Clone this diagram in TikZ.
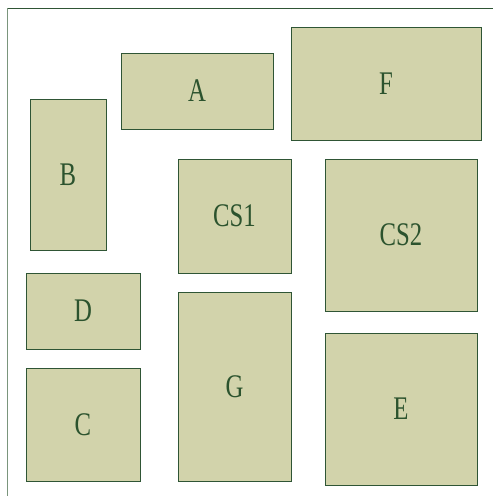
\documentclass[tikz,border=0pt]{standalone}
\usepackage{fontspec}
\setmainfont{Liberation Serif}
\usepackage{xcolor}
\usepackage{tikz}
\usetikzlibrary{positioning}
\definecolor{blkfill}{HTML}{D2D3AB}
\definecolor{blkline}{HTML}{2F5535}
\definecolor{blktext}{HTML}{2C532E}
\definecolor{frmside}{HTML}{7A957C}
\newcommand{\blklbl}[1]{\scalebox{0.75}[1]{#1}}

\begin{document}
\begin{tikzpicture}[
  x=1pt, y=-1pt,
  blk/.style ={rectangle, draw=blkline, fill=blkfill, line width=0.9pt, inner sep=0pt,
               font=\fontsize{33}{33}\selectfont\color{blktext}},
]
\useasboundingbox (0,0) rectangle (493,496);
% outer frame (only left and top edges visible)
\draw[frmside, line width=1pt] (7.5,496) -- (7.5,8);
\draw[blkline, line width=1pt] (7.5,8) -- (493,8);
% top row
\node[blk, minimum width=152pt, minimum height=76pt]  (A)   at (197,91)    {\blklbl{A}};
\node[blk, minimum width=190pt, minimum height=113pt] (F)   at (386,83.5)  {\blklbl{F}};
% middle
\node[blk, minimum width=76pt,  minimum height=151pt] (B)   at (68,174.5)  {\blklbl{B}};
\node[blk, minimum width=113pt, minimum height=114pt] (CS1) at (234.5,216) {\blklbl{CS1}};
\node[blk, minimum width=152pt, minimum height=152pt] (CS2) at (401,235)   {\blklbl{CS2}};
% bottom
\node[blk, minimum width=114pt, minimum height=76pt]  (D)   at (83,311)    {\blklbl{D}};
\node[blk, minimum width=114pt, minimum height=113pt] (C)   at (83,424.5)  {\blklbl{C}};
\node[blk, minimum width=113pt, minimum height=189pt] (G)   at (234.5,386.5) {\blklbl{G}};
\node[blk, minimum width=152pt, minimum height=152pt] (E)   at (401,409)   {\blklbl{E}};
\end{tikzpicture}
\end{document}
